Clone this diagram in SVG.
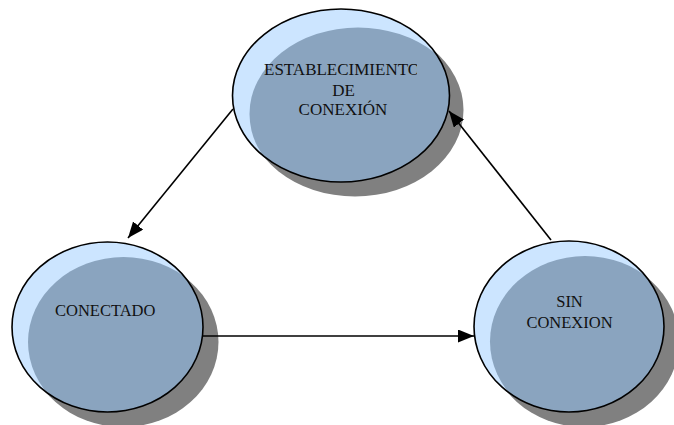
<svg xmlns="http://www.w3.org/2000/svg" width="674" height="425" viewBox="0 0 674 425">
  <style>
    .shadow { fill: #808080; }
    .base { fill: #cce5ff; }
    .inner { fill: #8aa4bf; }
    .rim { fill: none; stroke: #000; stroke-width: 1.6; }
    .label { font-family: "Liberation Serif", "Times New Roman", serif; font-size: 16.5px; fill: #111; }
    .big { font-size: 17px; }
    .edge { stroke: #000; stroke-width: 1.6; fill: none; marker-end: url(#head); }
  </style>
  <defs>
    <marker id="head" markerUnits="userSpaceOnUse" markerWidth="18" markerHeight="14" refX="16" refY="6.5" orient="auto">
      <path d="M0,0 L16,6.5 L0,13 Z" fill="#000"/>
    </marker>
    <clipPath id="clipTop"><ellipse cx="341" cy="95.5" rx="108.5" ry="86.5"/></clipPath>
    <clipPath id="clipLeft"><ellipse cx="107.5" cy="327" rx="95.5" ry="85"/></clipPath>
    <clipPath id="clipRight"><ellipse cx="569" cy="326.5" rx="95" ry="85.5"/></clipPath>
    <!-- text frame of the top node: the last letter runs past its edge -->
    <clipPath id="textBox"><rect x="250" y="55" width="167" height="80"/></clipPath>
  </defs>

  <!-- ESTABLECIMIENTO DE CONEXIÓN -->
  <g id="establecimiento">
    <ellipse class="shadow" cx="355" cy="110" rx="108.5" ry="86.5"/>
    <ellipse class="base" cx="341" cy="95.5" rx="108.5" ry="86.5"/>
    <ellipse class="inner" cx="358" cy="114" rx="108.5" ry="86.5" clip-path="url(#clipTop)"/>
    <ellipse class="rim" cx="341" cy="95.5" rx="108.5" ry="86.5"/>
    <g clip-path="url(#textBox)">
      <text class="label big" x="264" y="75">ESTABLECIMIENTO</text>
    </g>
    <text class="label big" x="343.5" y="96" text-anchor="middle">DE</text>
    <text class="label big" x="343" y="115" text-anchor="middle">CONEXIÓN</text>
  </g>

  <!-- CONECTADO -->
  <g id="conectado">
    <ellipse class="shadow" cx="123" cy="342" rx="95.5" ry="85"/>
    <ellipse class="base" cx="107.5" cy="327" rx="95.5" ry="85"/>
    <ellipse class="inner" cx="123.5" cy="342" rx="95.5" ry="85" clip-path="url(#clipLeft)"/>
    <ellipse class="rim" cx="107.5" cy="327" rx="95.5" ry="85"/>
    <text class="label" x="55" y="316">CONECTADO</text>
  </g>

  <!-- SIN CONEXION -->
  <g id="sin-conexion">
    <ellipse class="shadow" cx="584" cy="341.5" rx="95" ry="85.5"/>
    <ellipse class="base" cx="569" cy="326.5" rx="95" ry="85.5"/>
    <ellipse class="inner" cx="585" cy="341.5" rx="95" ry="85.5" clip-path="url(#clipRight)"/>
    <ellipse class="rim" cx="569" cy="326.5" rx="95" ry="85.5"/>
    <text class="label" x="569.5" y="307" text-anchor="middle">SIN</text>
    <text class="label" x="569.5" y="328" text-anchor="middle">CONEXION</text>
  </g>

  <!-- transitions -->
  <g id="connectors">
    <line class="edge" x1="233" y1="109" x2="128" y2="238"/>
    <line class="edge" x1="203" y1="336" x2="474" y2="336"/>
    <line class="edge" x1="551" y1="240" x2="449" y2="111"/>
  </g>
</svg>
